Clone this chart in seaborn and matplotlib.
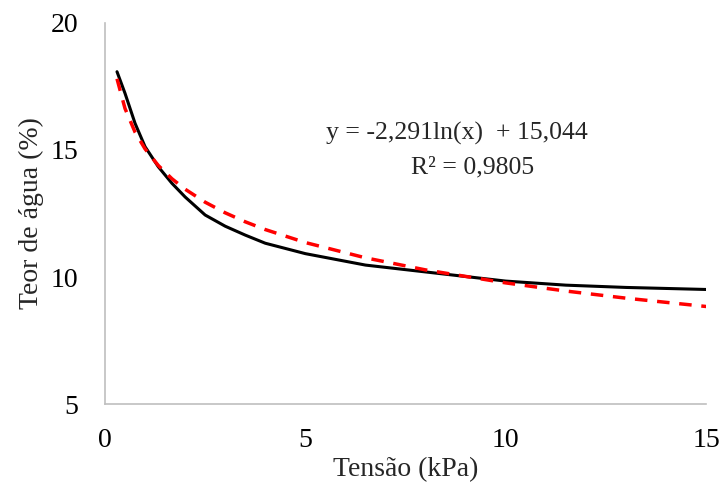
import numpy as np
import pandas as pd
import matplotlib
matplotlib.use('Agg')
import matplotlib.pyplot as plt
import seaborn as sns

tensao = [0.3, 0.5, 0.75, 1.0, 1.33, 1.67, 2.0, 2.5, 3.0, 3.5, 4.0, 5.0, 6.5, 8.0, 10.0, 11.5, 13.0, 15.0]
teor = [18.08, 17.23, 16.05, 15.13, 14.34, 13.69, 13.15, 12.44, 12.0, 11.65, 11.33, 10.92,
        10.47, 10.2, 9.84, 9.68, 9.59, 9.51]

# logarithmic trendline coefficients shown on the chart
coef_a = -2.291
coef_b = 15.044
r2 = 0.9805

df = pd.DataFrame({'tensao': tensao, 'teor': teor})
df['trend'] = coef_a * np.log(df['tensao']) + coef_b

sns.set_style('white')
plt.rcParams['font.family'] = ['Liberation Serif', 'DejaVu Serif']

fig = plt.figure(figsize=(7.22, 4.88), dpi=100)
ax = fig.add_axes([0.1454, 0.172, 0.8326, 0.781])

sns.lineplot(data=df, x='tensao', y='teor', color='black', linewidth=2.2, ax=ax)
sns.lineplot(data=df, x='tensao', y='trend', color='#ff0000', linewidth=2.5, ax=ax)
ax.lines[-1].set_dashes((3.6, 2.8))

ax.set_xlim(0, 15)
ax.set_ylim(5, 20)
ax.set_xticks([0, 5, 10, 15])
ax.set_yticks([5, 10, 15, 20])
ax.tick_params(axis='both', length=0, labelsize=20, colors='black')
ax.tick_params(axis='y', pad=19)
ax.tick_params(axis='x', pad=17.5)

for s in ['top', 'right']:
    ax.spines[s].set_visible(False)
for s in ['left', 'bottom']:
    ax.spines[s].set_color('#bfbfbf')
    ax.spines[s].set_linewidth(1.2)

ax.set_xlabel('Tensão (kPa)', fontsize=20, labelpad=3)
ax.set_ylabel('Teor de água (%)', fontsize=20, labelpad=5)

eq = 'y = ' + f'{coef_a:.3f}'.replace('.', ',') + 'ln(x)  + ' + f'{coef_b:.3f}'.replace('.', ',')
ax.text(0.586, 0.711, eq, transform=ax.transAxes, ha='center', va='center', fontsize=18.5)
ax.text(0.611, 0.622, 'R² = ' + f'{r2:.4f}'.replace('.', ','), transform=ax.transAxes,
        ha='center', va='center', fontsize=18.5)

fig.savefig('out.png', dpi=100)
